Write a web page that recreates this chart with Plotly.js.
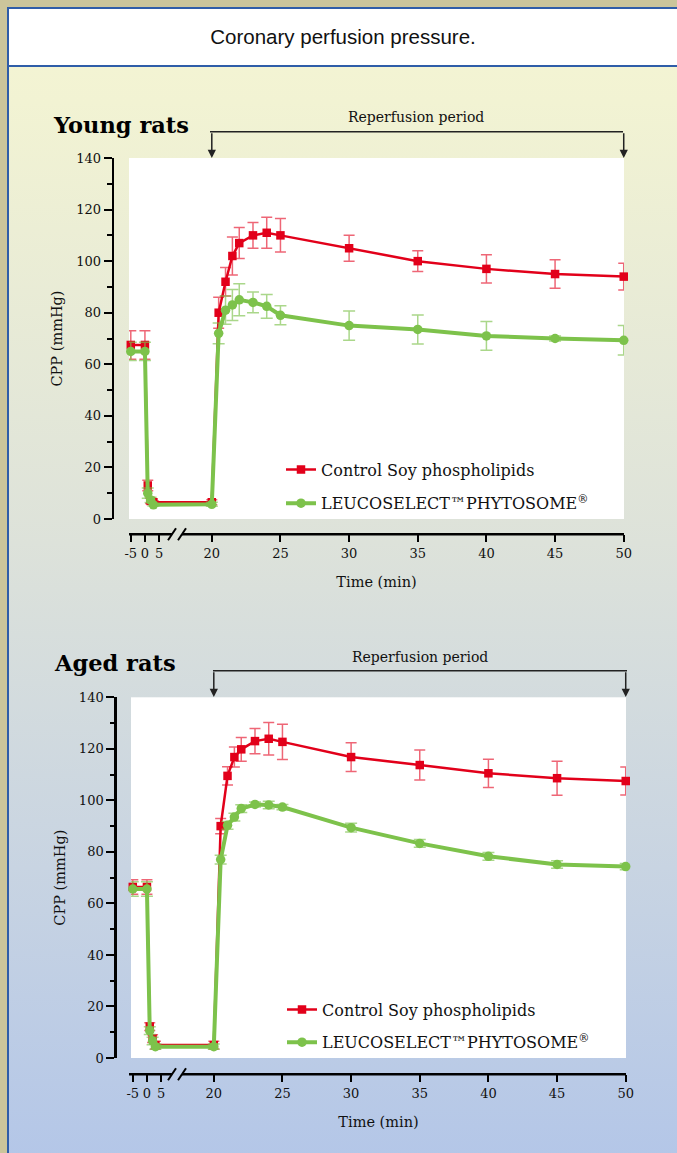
<!DOCTYPE html>
<html>
<head>
<meta charset="utf-8">
<script src="https://cdn.plot.ly/plotly-3.0.1.min.js"></script>
<style>
html,body{margin:0;padding:0;}
body{width:677px;height:1153px;overflow:hidden;background:#cbc59b;position:relative;}
#bg{position:absolute;left:7px;top:7px;width:700px;height:1160px;border-left:2px solid #2f5da8;border-top:2px solid #2f5da8;
background:linear-gradient(to bottom,#f5f5d3 0%,#f2f3d3 8%,#dde2da 46%,#c8d4e2 74%,#b3c6e8 100%);}
#header{position:absolute;left:9px;top:9px;width:700px;height:56px;background:#fff;border-bottom:2px solid #2f5da8;}
#chart{position:absolute;left:0;top:0;width:677px;height:1153px;}
</style>
</head>
<body>
<div id="bg"></div>
<div id="header"></div>
<div id="chart"></div>
<script>
// ---------- data ----------
const times = [-5, 0, 1, 2, 3, 20, 20.5, 21, 21.5, 22, 23, 24, 25, 30, 35, 40, 45, 50];

const youngControl    = [67.5, 67.5, 13, 7, 6.5, 6.5, 80, 92, 102, 107, 110, 111, 110, 105, 100, 97, 95, 94];
const youngControlErr = [5.5, 5.5, 2, 1, 0.5, 1, 6, 5.5, 7.4, 6, 5, 6, 6.5, 5, 4, 5.5, 5.5, 5.2];
const youngLeuco      = [65, 65, 10, 7.4, 5.5, 5.7, 72, 81, 83, 85, 84, 82.5, 79, 75, 73.5, 71, 70, 69.3];
const youngLeucoErr   = [3.5, 3.5, 2, 1, 0.5, 0.8, 4, 5.5, 6, 6.2, 4, 4.6, 3.7, 5.7, 5.6, 5.6, 1, 5.7];

const agedControl     = [66.4, 66.4, 12.2, 7.5, 5, 5, 90, 109.5, 116.8, 119.8, 123, 123.9, 122.7, 116.8, 113.7, 110.5, 108.6, 107.5];
const agedControlErr  = [2.8, 2.8, 1.5, 1.5, 1.5, 1.5, 3, 3.5, 3.9, 4.6, 4.9, 6.3, 6.8, 5.6, 5.8, 5.5, 6.6, 5.4];
const agedLeuco       = [65.6, 65.6, 10.6, 6.6, 4.4, 4.4, 77, 90.3, 93.5, 96.8, 98.4, 98.2, 97.4, 89.4, 83.3, 78.3, 75.1, 74.3];
const agedLeucoErr    = [2.8, 2.8, 1.5, 1.5, 1, 1, 1.7, 1.5, 1.5, 1.5, 1, 1.5, 1, 1.7, 1.5, 1.5, 1.5, 1.2];

const tickTimes  = [-5, 0, 5, 20, 25, 30, 35, 40, 45, 50];
const tickLabels = ['-5', '0', '5', '20', '25', '30', '35', '40', '45', '50'];

const seriesNames = ['Control Soy phospholipids', 'LEUCOSELECT™PHYTOSOME<sup>®</sup>'];

// ---------- helpers ----------
const W = 677, H = 1153;
const px = p => p / W;
const py = p => 1 - p / H;
// broken time axis: compressed -5..5 segment, then 20..50 at full scale
function toAxis(t) { return t >= 20 ? t : 15.13 + 0.206 * t; }
const xs = times.map(toAxis);
const tickPos = tickTimes.map(toAxis);

const RED = '#e2001a', RED_ERR = 'rgba(226,0,26,0.6)';
const GREEN = '#7dc24b', GREEN_ERR = 'rgba(125,194,75,0.65)';
const SERIF = 'DejaVu Serif, Liberation Serif, serif';

function controlTrace(y, err, xa, ya, leg) {
  return {
    x: xs, y: y, xaxis: xa, yaxis: ya, type: 'scatter', mode: 'lines+markers',
    name: seriesNames[0], legend: leg, legendgroup: leg + 'a',
    line: {color: RED, width: 2.5},
    marker: {symbol: 'square', size: 8.5, color: RED},
    error_y: {type: 'data', array: err, visible: true, color: RED_ERR, thickness: 1.5, width: 5.5},
    cliponaxis: false
  };
}
function leucoTrace(y, err, xa, ya, leg) {
  return {
    x: xs, y: y, xaxis: xa, yaxis: ya, type: 'scatter', mode: 'lines+markers',
    name: seriesNames[1], legend: leg, legendgroup: leg + 'b',
    line: {color: GREEN, width: 4},
    marker: {symbol: 'circle', size: 9.5, color: GREEN},
    error_y: {type: 'data', array: err, visible: true, color: GREEN_ERR, thickness: 1.5, width: 6},
    cliponaxis: false
  };
}

const data = [
  controlTrace(youngControl, youngControlErr, 'x', 'y', 'legend'),
  leucoTrace(youngLeuco, youngLeucoErr, 'x', 'y', 'legend'),
  controlTrace(agedControl, agedControlErr, 'x2', 'y2', 'legend2'),
  leucoTrace(agedLeuco, agedLeucoErr, 'x2', 'y2', 'legend2')
];

function xAxis(d0, d1, linePos) {
  return {
    domain: [px(d0), px(d1)], range: [13.97, 50.02], anchor: 'free', position: py(linePos),
    showline: false, showgrid: false, zeroline: false,
    tickmode: 'array', tickvals: tickPos, ticktext: tickLabels,
    ticks: 'outside', ticklen: 7, tickwidth: 2, tickcolor: '#000',
    tickfont: {family: SERIF, size: 13, color: '#111'},
    title: {text: 'Time (min)', font: {family: SERIF, size: 14.5, color: '#111'}, standoff: 16}
  };
}
function yAxis(top, bottom, linePos) {
  return {
    domain: [py(bottom), py(top)], range: [0, 140], anchor: 'free', position: px(linePos),
    showline: true, linewidth: 2.5, linecolor: '#000', showgrid: false, zeroline: false,
    dtick: 20, ticks: 'outside', ticklen: 8, tickwidth: 2, tickcolor: '#000',
    minor: {dtick: 10, ticks: 'outside', ticklen: 4.5, tickwidth: 2, tickcolor: '#000'},
    tickfont: {family: SERIF, size: 13, color: '#111'},
    title: {text: 'CPP (mmHg)', font: {family: SERIF, size: 14.5, color: '#111'}, standoff: 9}
  };
}

function axisBreak(y, xEnd) {
  const c = '#000';
  return [
    {type: 'line', xref: 'paper', yref: 'paper', x0: px(129), x1: px(172), y0: py(y), y1: py(y), line: {color: c, width: 2.5}},
    {type: 'line', xref: 'paper', yref: 'paper', x0: px(182), x1: px(xEnd), y0: py(y), y1: py(y), line: {color: c, width: 2.5}},
    {type: 'line', xref: 'paper', yref: 'paper', x0: px(168), x1: px(176), y0: py(y + 6), y1: py(y - 6), line: {color: c, width: 2}},
    {type: 'line', xref: 'paper', yref: 'paper', x0: px(178), x1: px(186), y0: py(y + 6), y1: py(y - 6), line: {color: c, width: 2}}
  ];
}
function bracketLine(y, x0, x1) {
  return {type: 'line', xref: 'paper', yref: 'paper', x0: px(x0), x1: px(x1), y0: py(y), y1: py(y), line: {color: '#222', width: 1.5}};
}
function arrow(xref, t, tipY, len) {
  return {xref: xref, yref: 'paper', x: toAxis(t), y: py(tipY), text: '', showarrow: true,
    arrowhead: 2, arrowsize: 1.1, arrowwidth: 1.5, arrowcolor: '#222', ax: 0, ay: -len, standoff: 0};
}

const layout = {
  width: W, height: H, margin: {l: 0, r: 0, t: 0, b: 0},
  paper_bgcolor: 'rgba(0,0,0,0)', plot_bgcolor: '#ffffff',
  title: {text: 'Coronary perfusion pressure.', x: px(343), xanchor: 'center', y: py(37), yanchor: 'middle',
    font: {family: 'Liberation Sans, Arial, sans-serif', size: 20.5, color: '#111'}},
  xaxis: xAxis(129, 624, 534.3),
  yaxis: yAxis(158, 519, 112.7),
  xaxis2: xAxis(131, 626, 1074.3),
  yaxis2: yAxis(697.3, 1058, 115.3),
  legend: {x: px(281), y: py(452.5), xanchor: 'left', yanchor: 'top', bgcolor: 'rgba(0,0,0,0)',
    font: {family: SERIF, size: 16, color: '#111'}, traceorder: 'grouped', tracegroupgap: 10, itemwidth: 30},
  legend2: {x: px(282), y: py(992.5), xanchor: 'left', yanchor: 'top', bgcolor: 'rgba(0,0,0,0)',
    font: {family: SERIF, size: 16, color: '#111'}, traceorder: 'grouped', tracegroupgap: 9, itemwidth: 30},
  shapes: [].concat(
    axisBreak(534.3, 624), axisBreak(1074.3, 626),
    [bracketLine(131.7, 210, 623), bracketLine(670.7, 213, 627)]
  ),
  annotations: [
    {xref: 'paper', yref: 'paper', x: px(51), y: py(125), xanchor: 'left', yanchor: 'middle', showarrow: false,
      text: '<b>Young rats</b>', font: {family: SERIF, size: 22.5, color: '#000'}},
    {xref: 'paper', yref: 'paper', x: px(52), y: py(663), xanchor: 'left', yanchor: 'middle', showarrow: false,
      text: '<b>Aged rats</b>', font: {family: SERIF, size: 22.5, color: '#000'}},
    {xref: 'paper', yref: 'paper', x: px(416), y: py(117), xanchor: 'center', yanchor: 'middle', showarrow: false,
      text: 'Reperfusion period', font: {family: SERIF, size: 14, color: '#111'}},
    {xref: 'paper', yref: 'paper', x: px(420), y: py(657), xanchor: 'center', yanchor: 'middle', showarrow: false,
      text: 'Reperfusion period', font: {family: SERIF, size: 14, color: '#111'}},
    arrow('x', 20, 158, 26.3), arrow('x', 50, 158, 26.3),
    arrow('x2', 20, 697, 26.3), arrow('x2', 50, 697, 26.3)
  ]
};

Plotly.newPlot('chart', data, layout, {displayModeBar: false, staticPlot: true});
</script>
</body>
</html>
